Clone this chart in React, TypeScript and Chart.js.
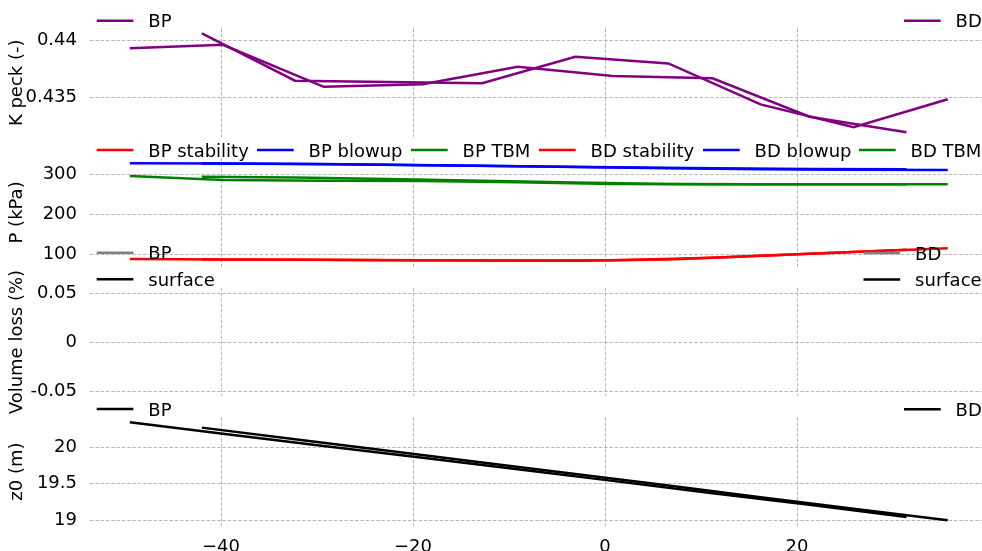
import React, { useEffect, useRef } from 'react';
import { Chart, registerables } from 'chart.js';

Chart.register(...registerables);

// ---------------- data ----------------
const xTicks = [-40, -20, 0, 20];

const bpX = [-49.5, -39.8, -29.3, -19.0, -9.1, 0.8, 11.2, 21.3, 31.4];
const bdX = [-42.0, -32.3, -22.6, -12.8, -3.1, 6.6, 16.2, 25.9, 35.7];

// K peck (-)
const kBP = [0.43933, 0.43964, 0.43591, 0.43613, 0.43769, 0.43687, 0.43666, 0.43325, 0.43187];
const kBD = [0.44066, 0.43645, 0.43633, 0.43622, 0.43858, 0.43799, 0.43435, 0.43231, 0.4348];
const kTicks = [0.435, 0.44];

// P (kPa)
const pBPstability = [87.5, 86.5, 85.5, 84.5, 83.5, 84.5, 90.5, 100.5, 110.5];
const pBPblowup = [327.6, 327, 326, 323, 320.5, 317.5, 315, 313.5, 312.5];
const pBPtbm = [295.7, 285.5, 284, 283.5, 280, 276, 275, 275, 275];
const pBDstability = [86.5, 85.5, 84.5, 83.5, 83, 86, 95.5, 105, 114.5];
const pBDblowup = [327, 326, 324, 321.5, 318.5, 315, 313, 311.5, 310.8];
const pBDtbm = [294, 292, 288.5, 284, 279.5, 275.5, 275, 275, 275];
const pTicks = [100, 200, 300];

// Volume loss (%) - no data
const vTicks = [-0.05, 0, 0.05];

// z0 (m)
const zBP = [20.35, 20.19, 20.02, 19.86, 19.7, 19.54, 19.37, 19.21, 19.04];
const zBD = [20.275, 20.115, 19.955, 19.795, 19.635, 19.475, 19.315, 19.155, 18.995];
const zTicks = [19, 19.5, 20];

// ---------------- layout ----------------
const W = 982;
const H = 551;
const PLOT_LEFT = 90;
const X_MIN = -53.65;
const X_MAX = 39.27;
const FONT = "'DejaVu Sans', sans-serif";
const FS = 18;
const GRID = '#b8b8b8';

const PURPLE = '#800080';
const RED = '#ff0000';
const BLUE = '#0000ff';
const GREEN = '#008000';
const GRAY = '#808080';
const BLACK = '#000000';

type Item = { label: string; color: string };
type LegendGroup = { x: number; y: number; items: Item[]; xs?: number[] };

type DS = { label: string; x: number[]; y: number[]; color: string };

type PanelCfg = {
  top: number;
  height: number;
  yMin: number;
  yMax: number;
  yTicks: number[];
  yFmt: (v: number) => string;
  title: string;
  datasets: DS[];
  legends: LegendGroup[];
  showX: boolean;
};

const fmtX = (v: number) => (v < 0 ? '\u2212' + Math.abs(v) : String(v));

const panels: PanelCfg[] = [
  {
    top: 28.4,
    height: 108.8,
    yMin: 0.43143,
    yMax: 0.4411,
    yTicks: kTicks,
    yFmt: (v) => String(+v.toFixed(4)),
    title: 'K peck (-)',
    datasets: [
      { label: 'BP', x: bpX, y: kBP, color: PURPLE },
      { label: 'BD', x: bdX, y: kBD, color: PURPLE },
    ],
    legends: [
      { x: 96.7, y: 20.7, items: [{ label: 'BP', color: PURPLE }] },
      { x: 904, y: 20.7, items: [{ label: 'BD', color: PURPLE }] },
    ],
    showX: false,
  },
  {
    top: 158.1,
    height: 108.6,
    yMin: 68.2,
    yMax: 340.7,
    yTicks: pTicks,
    yFmt: (v) => String(v),
    title: 'P (kPa)',
    datasets: [
      { label: 'BP stability', x: bpX, y: pBPstability, color: RED },
      { label: 'BP blowup', x: bpX, y: pBPblowup, color: BLUE },
      { label: 'BP TBM', x: bpX, y: pBPtbm, color: GREEN },
      { label: 'BD stability', x: bdX, y: pBDstability, color: RED },
      { label: 'BD blowup', x: bdX, y: pBDblowup, color: BLUE },
      { label: 'BD TBM', x: bdX, y: pBDtbm, color: GREEN },
    ],
    legends: [
      {
        x: 96.7,
        y: 150,
        xs: [96.7, 257, 411, 539, 703, 859],
        items: [
          { label: 'BP stability', color: RED },
          { label: 'BP blowup', color: BLUE },
          { label: 'BP TBM', color: GREEN },
          { label: 'BD stability', color: RED },
          { label: 'BD blowup', color: BLUE },
          { label: 'BD TBM', color: GREEN },
        ],
      },
    ],
    showX: false,
  },
  {
    top: 287.8,
    height: 108.6,
    yMin: -0.0555,
    yMax: 0.0555,
    yTicks: vTicks,
    yFmt: (v) => (Math.abs(v) < 1e-9 ? '0' : String(+v.toFixed(2))),
    title: 'Volume loss (%)',
    datasets: [],
    legends: [
      {
        x: 96.7,
        y: 252.7,
        items: [
          { label: 'BP', color: GRAY },
          { label: 'surface', color: BLACK },
        ],
      },
      {
        x: 863.5,
        y: 253,
        items: [
          { label: 'BD', color: GRAY },
          { label: 'surface', color: BLACK },
        ],
      },
    ],
    showX: false,
  },
  {
    top: 417.4,
    height: 108.4,
    yMin: 18.92,
    yMax: 20.416,
    yTicks: zTicks,
    yFmt: (v) => String(v),
    title: 'z0 (m)',
    datasets: [
      { label: 'BP', x: bpX, y: zBP, color: BLACK },
      { label: 'BD', x: bdX, y: zBD, color: BLACK },
    ],
    legends: [
      { x: 96.7, y: 409, items: [{ label: 'BP', color: BLACK }] },
      { x: 904, y: 409.3, items: [{ label: 'BD', color: BLACK }] },
    ],
    showX: true,
  },
];

const legendPlugin = (groups: LegendGroup[]) => ({
  id: 'customLegend',
  afterDraw(chart: any) {
    const ctx: CanvasRenderingContext2D = chart.ctx;
    ctx.save();
    ctx.font = `${FS}px ${FONT}`;
    ctx.textBaseline = 'alphabetic';
    ctx.textAlign = 'left';
    for (const g of groups) {
      let y = g.y;
      g.items.forEach((it, i) => {
        const x = g.xs ? g.xs[i] : g.x;
        const ly = g.xs ? g.y : y;
        ctx.strokeStyle = it.color;
        ctx.lineWidth = 2.5;
        ctx.setLineDash([]);
        ctx.beginPath();
        ctx.moveTo(x, ly);
        ctx.lineTo(x + 36.7, ly);
        ctx.stroke();
        ctx.fillStyle = '#000';
        ctx.fillText(it.label, x + 51.6, ly + 6.5);
        if (!g.xs) y += 26.6;
      });
    }
    ctx.restore();
  },
});

function Panel({ cfg }: { cfg: PanelCfg }) {
  const ref = useRef<HTMLCanvasElement>(null);
  useEffect(() => {
    const chart = new Chart(ref.current as HTMLCanvasElement, {
      type: 'line',
      data: {
        datasets: cfg.datasets.map((d) => ({
          label: d.label,
          data: d.x.map((x, i) => ({ x, y: d.y[i] })),
          borderColor: d.color,
          backgroundColor: d.color,
          borderWidth: 2.5,
          pointRadius: 0,
          fill: false,
          tension: 0,
        })),
      },
      options: {
        animation: false,
        responsive: false,
        maintainAspectRatio: false,
        events: [],
        layout: { padding: { top: cfg.top, left: 0, right: 0, bottom: 0 } },
        plugins: { legend: { display: false }, tooltip: { enabled: false } },
        scales: {
          x: {
            type: 'linear',
            min: X_MIN,
            max: X_MAX,
            afterBuildTicks: (s: any) => {
              s.ticks = xTicks.map((v) => ({ value: v }));
            },
            afterFit: (s: any) => {
              s.height = H - (cfg.top + cfg.height);
            },
            grid: { color: GRID, lineWidth: 1, drawTicks: false },
            border: { display: false, dash: [3.5, 1.8] },
            ticks: {
              display: cfg.showX,
              padding: 10.5,
              color: '#000',
              font: { family: FONT, size: FS },
              maxRotation: 0,
              callback: (v: any) => fmtX(Number(v)),
            },
          },
          y: {
            type: 'linear',
            min: cfg.yMin,
            max: cfg.yMax,
            afterBuildTicks: (s: any) => {
              s.ticks = cfg.yTicks.map((v) => ({ value: v }));
            },
            afterFit: (s: any) => {
              s.width = PLOT_LEFT;
            },
            grid: { color: GRID, lineWidth: 1, drawTicks: false },
            border: { display: false, dash: [3.5, 1.8] },
            ticks: {
              padding: 13,
              color: '#000',
              font: { family: FONT, size: FS },
              callback: (v: any) => cfg.yFmt(Number(v)),
            },
            title: {
              display: true,
              text: cfg.title,
              color: '#000',
              font: { family: FONT, size: FS },
              padding: { top: 6.7, bottom: 0 },
            },
          },
        },
      },
      plugins: [legendPlugin(cfg.legends)],
    } as any);
    return () => chart.destroy();
  }, [cfg]);
  return (
    <canvas
      ref={ref}
      width={W}
      height={H}
      style={{ position: 'absolute', left: 0, top: 0, width: W, height: H }}
    />
  );
}

export default function App() {
  return (
    <div
      style={{
        position: 'fixed',
        left: 0,
        top: 0,
        width: W,
        height: H,
        background: '#fff',
        overflow: 'hidden',
      }}
    >
      {panels.map((p, i) => (
        <Panel key={i} cfg={p} />
      ))}
    </div>
  );
}
